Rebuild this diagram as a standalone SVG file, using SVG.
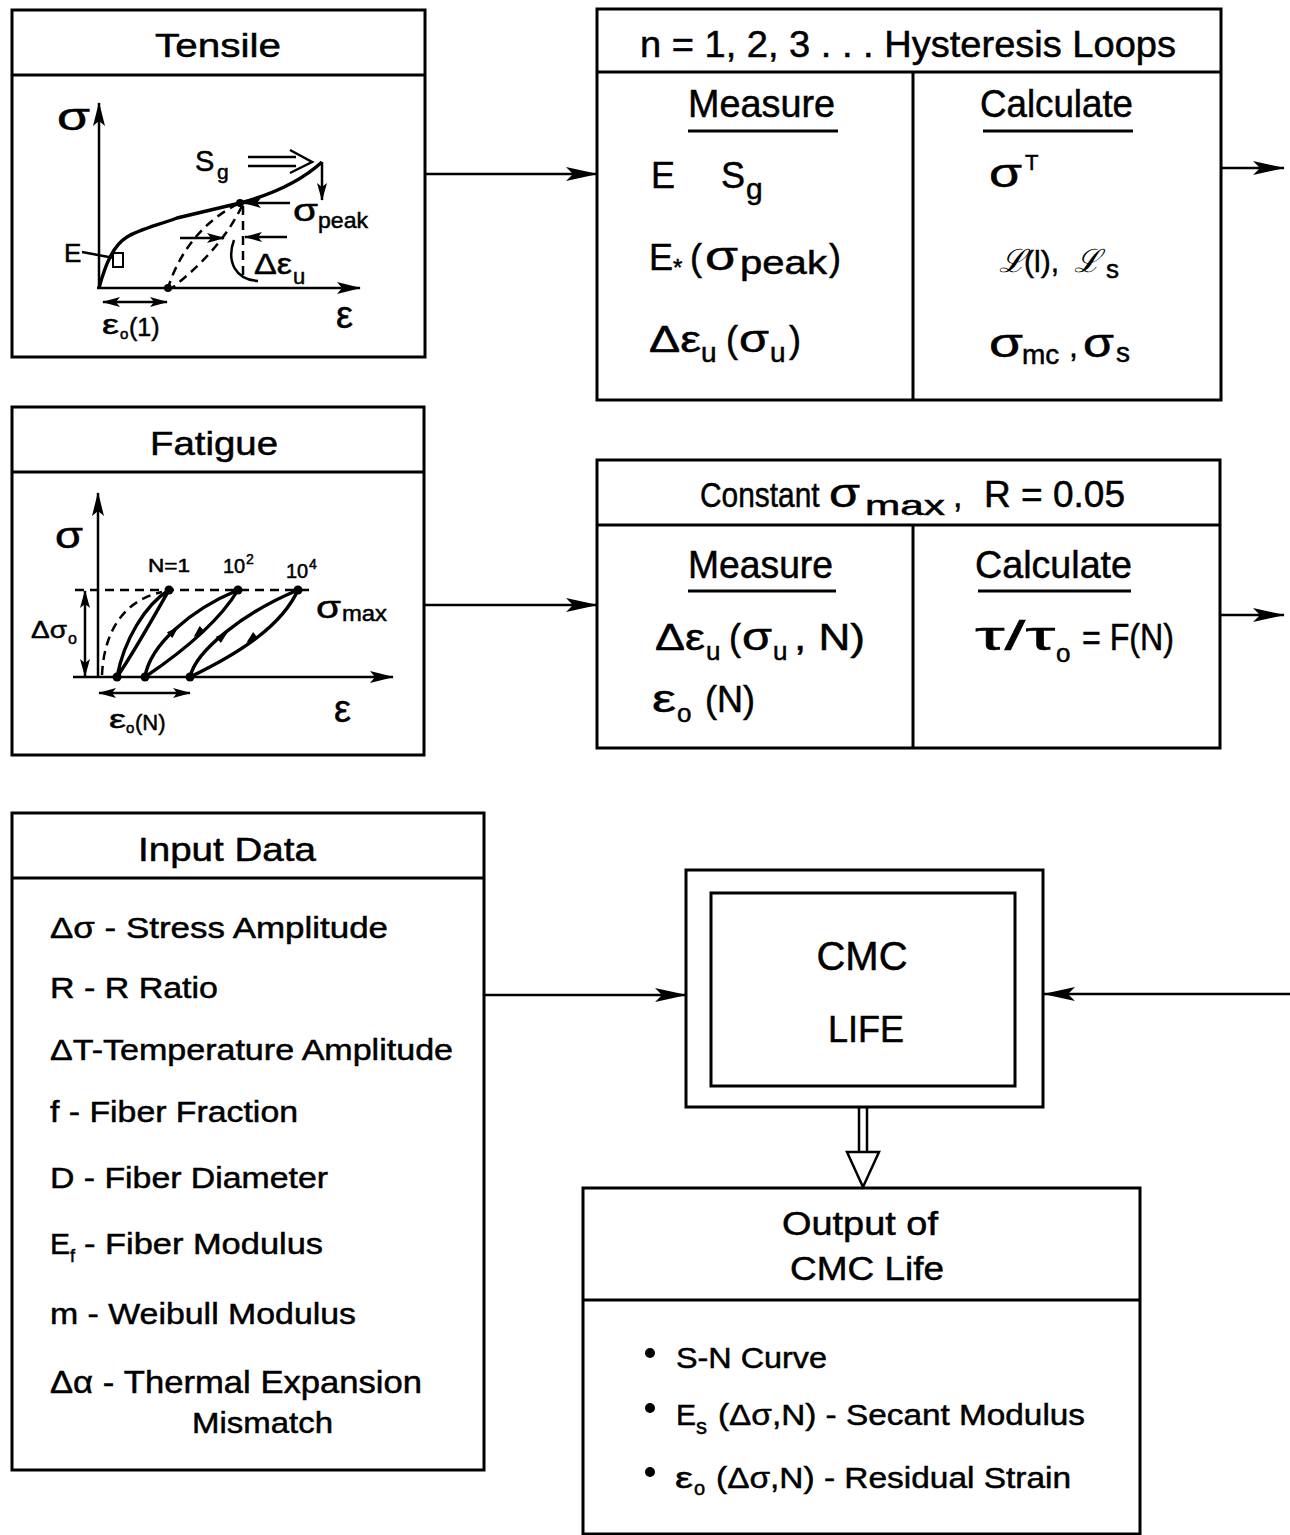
<svg xmlns="http://www.w3.org/2000/svg" width="1290" height="1535" viewBox="0 0 1290 1535">
<defs>
<style>
.box{fill:none;stroke:#000;stroke-width:3}
.ln{fill:none;stroke:#000;stroke-width:2.5}
.th{fill:none;stroke:#000;stroke-width:3.4}
.ds{fill:none;stroke:#000;stroke-width:2.5;stroke-dasharray:9 6}
.t{font-family:"Liberation Sans",Arial,Helvetica,sans-serif;fill:#000;stroke:#000;stroke-width:0.5}
.s{font-family:"DejaVu Serif","Liberation Serif",serif;fill:#000;font-style:italic}
.dot{fill:#000}
.con{fill:none;stroke:#000;stroke-width:2.5;marker-end:url(#big)}
</style>
<marker id="big" viewBox="0 0 32 14" refX="31" refY="7" markerWidth="32" markerHeight="14" markerUnits="userSpaceOnUse" orient="auto-start-reverse"><path d="M0,0 L32,7 L0,14 L7,7 z" fill="#000"/></marker>
<marker id="sm" viewBox="0 0 18 10" refX="17" refY="5" markerWidth="18" markerHeight="10" markerUnits="userSpaceOnUse" orient="auto-start-reverse"><path d="M0,0 L18,5 L0,10 L4,5 z" fill="#000"/></marker>
<marker id="ax" viewBox="0 0 24 12" refX="23" refY="6" markerWidth="24" markerHeight="12" markerUnits="userSpaceOnUse" orient="auto-start-reverse"><path d="M0,0 L24,6 L0,12 L5,6 z" fill="#000"/></marker>
</defs>
<rect width="1290" height="1535" fill="#fff"/>

<!-- Tensile node -->
<g id="tensile">
<rect class="box" x="12" y="10" width="413" height="347"/>
<line class="box" x1="12" y1="75" x2="425" y2="75"/>
<text class="t" x="155" y="57" font-size="34" textLength="126" lengthAdjust="spacingAndGlyphs">Tensile</text>
<line class="ln" x1="99" y1="288" x2="99" y2="103" marker-end="url(#ax)"/>
<line class="ln" x1="97" y1="288" x2="360" y2="288" marker-end="url(#ax)"/>
<path class="th" d="M99,288 C106,262 114,245 127,237 C138,230 155,226 177,218 L240,203 C270,195 300,182 322,162"/>
<path class="ds" d="M238,204 C205,220 180,250 168,288"/>
<path class="ds" d="M242,206 C228,235 205,262 172,288"/>
<path class="ds" d="M243,206 L243,276"/>
<circle class="dot" cx="240" cy="203" r="4"/>
<circle class="dot" cx="168" cy="288" r="4"/>
<rect x="113" y="253" width="10" height="14" fill="none" stroke="#000" stroke-width="2"/>
<line class="ln" x1="82" y1="252" x2="114" y2="258"/>
<text class="t" x="64" y="262" font-size="26">E</text>
<text class="t" x="57" y="130" font-size="38" textLength="33" lengthAdjust="spacingAndGlyphs">σ</text>
<text class="t" x="195" y="171" font-size="29">S</text>
<text class="t" x="217" y="179" font-size="21">g</text>
<path class="ln" d="M248,157 L296,157 M248,166 L296,166 M290,150 L312,162 L290,173" stroke-width="2.5"/>
<line class="ln" x1="322" y1="162" x2="322" y2="200" marker-end="url(#sm)"/>
<line class="ln" x1="290" y1="203" x2="244" y2="203" marker-end="url(#sm)"/>
<text class="t" x="293" y="221" font-size="32" textLength="25" lengthAdjust="spacingAndGlyphs">σ</text>
<text class="t" x="318" y="228" font-size="22" textLength="50" lengthAdjust="spacingAndGlyphs">peak</text>
<line class="ln" x1="180" y1="238" x2="224" y2="238" marker-end="url(#sm)"/>
<line class="ln" x1="287" y1="237" x2="245" y2="237" marker-end="url(#sm)"/>
<path class="ln" d="M234,240 C226,262 236,280 258,281"/>
<text class="t" x="254" y="274" font-size="29" textLength="38" lengthAdjust="spacingAndGlyphs">Δε</text>
<text class="t" x="293" y="284" font-size="22">u</text>
<line class="ln" x1="103" y1="302" x2="167" y2="302" marker-start="url(#sm)" marker-end="url(#sm)"/>
<text class="t" x="102" y="334" font-size="28" textLength="17" lengthAdjust="spacingAndGlyphs">ε</text>
<text class="t" x="120" y="339" font-size="15">o</text>
<text class="t" x="129" y="336" font-size="25">(1)</text>
<text class="t" x="336" y="328" font-size="38">ε</text>
</g>

<!-- Fatigue node -->
<g id="fatigue">
<rect class="box" x="12" y="407" width="412" height="348"/>
<line class="box" x1="12" y1="472" x2="424" y2="472"/>
<text class="t" x="150" y="455" font-size="34" textLength="128" lengthAdjust="spacingAndGlyphs">Fatigue</text>
<line class="ln" x1="98" y1="677" x2="98" y2="493" marker-end="url(#ax)"/>
<line class="ln" x1="73" y1="677" x2="393" y2="677" marker-end="url(#ax)"/>
<path class="ds" d="M75,590 L310,590"/>
<line class="ln" x1="85" y1="591" x2="85" y2="676" marker-start="url(#sm)" marker-end="url(#sm)"/>
<path class="ds" d="M102,675 C104,630 125,600 162,592"/>
<path class="th" d="M117,677 C124,640 145,605 169,590 M169,590 C152,620 134,652 117,677"/>
<path class="th" d="M145,677 C150,645 190,610 238,590 M238,590 C220,620 188,648 145,677"/>
<path class="th" d="M190,677 C196,650 245,612 298,590 M298,590 C282,625 242,652 190,677"/>
<polygon class="dot" points="-6,-4 6,0 -6,4" transform="translate(174,631) rotate(-43)"/>
<polygon class="dot" points="-6,-4 6,0 -6,4" transform="translate(198,633) rotate(137)"/>
<polygon class="dot" points="-6,-4 6,0 -6,4" transform="translate(223,636) rotate(-39)"/>
<polygon class="dot" points="-6,-4 6,0 -6,4" transform="translate(251,639) rotate(141)"/>
<circle class="dot" cx="169" cy="590" r="4.5"/>
<circle class="dot" cx="238" cy="590" r="4.5"/>
<circle class="dot" cx="298" cy="590" r="4.5"/>
<circle class="dot" cx="117" cy="677" r="4.5"/>
<circle class="dot" cx="145" cy="677" r="4.5"/>
<circle class="dot" cx="190" cy="677" r="4.5"/>
<text class="t" x="55" y="548" font-size="36" textLength="28" lengthAdjust="spacingAndGlyphs">σ</text>
<text class="t" x="148" y="572" font-size="18" textLength="42" lengthAdjust="spacingAndGlyphs">N=1</text>
<text class="t" x="223" y="573" font-size="20">10</text>
<text class="t" x="246" y="564" font-size="14">2</text>
<text class="t" x="286" y="578" font-size="20">10</text>
<text class="t" x="309" y="569" font-size="14">4</text>
<text class="t" x="316" y="618" font-size="32" textLength="25" lengthAdjust="spacingAndGlyphs">σ</text>
<text class="t" x="342" y="621" font-size="22" textLength="45" lengthAdjust="spacingAndGlyphs">max</text>
<text class="t" x="31" y="638" font-size="24" textLength="36" lengthAdjust="spacingAndGlyphs">Δσ</text>
<text class="t" x="68" y="644" font-size="16">o</text>
<line class="ln" x1="99" y1="693" x2="190" y2="693" marker-start="url(#sm)" marker-end="url(#sm)"/>
<text class="t" x="109" y="728" font-size="26" textLength="17" lengthAdjust="spacingAndGlyphs">ε</text>
<text class="t" x="126" y="733" font-size="15">o</text>
<text class="t" x="135" y="730" font-size="22">(N)</text>
<text class="t" x="334" y="722" font-size="38">ε</text>
</g>

<!-- Hysteresis node -->
<g id="hysteresis">
<rect class="box" x="597" y="9" width="624" height="391"/>
<line class="box" x1="597" y1="72" x2="1221" y2="72"/>
<line class="box" x1="913" y1="72" x2="913" y2="400"/>
<text class="t" x="640" y="57" font-size="36" textLength="536" lengthAdjust="spacingAndGlyphs">n = 1, 2, 3 . . . Hysteresis Loops</text>
<text class="t" x="688" y="117" font-size="38" textLength="147" lengthAdjust="spacingAndGlyphs">Measure</text>
<line class="box" x1="688" y1="131" x2="838" y2="131"/>
<text class="t" x="980" y="117" font-size="38" textLength="153" lengthAdjust="spacingAndGlyphs">Calculate</text>
<line class="box" x1="983" y1="131" x2="1133" y2="131"/>
<text class="t" x="651" y="188" font-size="36">E</text>
<text class="t" x="721" y="188" font-size="36">S</text>
<text class="t" x="746" y="199" font-size="30">g</text>
<text class="t" x="649" y="270" font-size="36">E</text>
<text class="t" x="673" y="276" font-size="24">*</text>
<text class="t" x="690" y="270" font-size="36">(</text>
<text class="t" x="705" y="270" font-size="40" textLength="33" lengthAdjust="spacingAndGlyphs">σ</text>
<text class="t" x="740" y="274" font-size="34" textLength="87" lengthAdjust="spacingAndGlyphs">peak</text>
<text class="t" x="829" y="270" font-size="36">)</text>
<text class="t" x="649" y="352" font-size="36" textLength="52" lengthAdjust="spacingAndGlyphs">Δε</text>
<text class="t" x="701" y="362" font-size="28">u</text>
<text class="t" x="726" y="352" font-size="36">(</text>
<text class="t" x="739" y="352" font-size="38" textLength="30" lengthAdjust="spacingAndGlyphs">σ</text>
<text class="t" x="770" y="362" font-size="28">u</text>
<text class="t" x="789" y="352" font-size="36">)</text>
<text class="t" x="989" y="187" font-size="40" textLength="33" lengthAdjust="spacingAndGlyphs">σ</text>
<text class="t" x="1025" y="170" font-size="22">T</text>
<text class="s" x="999" y="272" font-size="32">ℒ</text>
<text class="t" x="1024" y="272" font-size="30" stroke-width="0.3">(l),</text>
<text class="s" x="1074" y="272" font-size="32">ℒ</text>
<text class="t" x="1106" y="278" font-size="26" stroke-width="0.3">s</text>
<text class="t" x="989" y="357" font-size="40" textLength="34" lengthAdjust="spacingAndGlyphs">σ</text>
<text class="t" x="1022" y="364" font-size="28">mc</text>
<text class="t" x="1069" y="357" font-size="32">,</text>
<text class="t" x="1083" y="357" font-size="40" textLength="31" lengthAdjust="spacingAndGlyphs">σ</text>
<text class="t" x="1116" y="362" font-size="28">s</text>
</g>

<!-- Constant sigma_max node -->
<g id="constant">
<rect class="box" x="597" y="460" width="623" height="288"/>
<line class="box" x1="597" y1="525" x2="1220" y2="525"/>
<line class="box" x1="913" y1="525" x2="913" y2="748"/>
<text class="t" font-size="36" transform="translate(700,507) scale(0.83,1)">Constant</text>
<text class="t" x="829" y="507" font-size="40" textLength="31" lengthAdjust="spacingAndGlyphs">σ</text>
<text class="t" x="865" y="515" font-size="28" textLength="80" lengthAdjust="spacingAndGlyphs">max</text>
<text class="t" x="953" y="507" font-size="34">,</text>
<text class="t" x="984" y="507" font-size="36" textLength="141" lengthAdjust="spacingAndGlyphs">R = 0.05</text>
<text class="t" x="688" y="578" font-size="38" textLength="145" lengthAdjust="spacingAndGlyphs">Measure</text>
<line class="box" x1="688" y1="591" x2="836" y2="591"/>
<text class="t" x="975" y="578" font-size="38" textLength="157" lengthAdjust="spacingAndGlyphs">Calculate</text>
<line class="box" x1="978" y1="591" x2="1131" y2="591"/>
<text class="t" x="655" y="650" font-size="36" textLength="50" lengthAdjust="spacingAndGlyphs">Δε</text>
<text class="t" x="706" y="660" font-size="26">u</text>
<text class="t" x="729" y="650" font-size="36">(</text>
<text class="t" x="742" y="650" font-size="38" textLength="30" lengthAdjust="spacingAndGlyphs">σ</text>
<text class="t" x="773" y="660" font-size="26">u</text>
<text class="t" x="794" y="650" font-size="36" textLength="71" lengthAdjust="spacingAndGlyphs">, N)</text>
<text class="t" x="652" y="712" font-size="38" textLength="24" lengthAdjust="spacingAndGlyphs">ε</text>
<text class="t" x="677" y="722" font-size="26">o</text>
<text class="t" x="705" y="712" font-size="36">(N)</text>
<text class="t" x="975" y="650" font-size="40" textLength="80" lengthAdjust="spacingAndGlyphs">τ/τ</text>
<text class="t" x="1056" y="662" font-size="26">o</text>
<text class="t" x="1082" y="650" font-size="36" textLength="92" lengthAdjust="spacingAndGlyphs">= F(N)</text>
</g>

<!-- Input Data node -->
<g id="input">
<rect class="box" x="12" y="813" width="472" height="657"/>
<line class="box" x1="12" y1="878" x2="484" y2="878"/>
<text class="t" x="138" y="861" font-size="34" textLength="178" lengthAdjust="spacingAndGlyphs">Input Data</text>
<text class="t" x="50" y="938" font-size="30" textLength="338" lengthAdjust="spacingAndGlyphs">Δσ - Stress Amplitude</text>
<text class="t" x="50" y="998" font-size="30" textLength="168" lengthAdjust="spacingAndGlyphs">R - R Ratio</text>
<text class="t" x="50" y="1060" font-size="30" textLength="403" lengthAdjust="spacingAndGlyphs">ΔT-Temperature Amplitude</text>
<text class="t" x="50" y="1122" font-size="30" textLength="248" lengthAdjust="spacingAndGlyphs">f - Fiber Fraction</text>
<text class="t" x="50" y="1188" font-size="30" textLength="278" lengthAdjust="spacingAndGlyphs">D - Fiber Diameter</text>
<text class="t" x="50" y="1254" font-size="30">E</text>
<text class="t" x="70" y="1262" font-size="18">f</text>
<text class="t" x="84" y="1254" font-size="30" textLength="239" lengthAdjust="spacingAndGlyphs">- Fiber Modulus</text>
<text class="t" x="50" y="1324" font-size="30" textLength="306" lengthAdjust="spacingAndGlyphs">m - Weibull Modulus</text>
<text class="t" x="50" y="1393" font-size="32" textLength="372" lengthAdjust="spacingAndGlyphs">Δα - Thermal Expansion</text>
<text class="t" x="192" y="1433" font-size="30" textLength="141" lengthAdjust="spacingAndGlyphs">Mismatch</text>
</g>

<!-- CMC Life node -->
<g id="cmc">
<rect class="box" x="686" y="870" width="357" height="237"/>
<rect class="box" x="711" y="893" width="304" height="193"/>
<text class="t" x="862" y="970" font-size="40" text-anchor="middle">CMC</text>
<text class="t" x="866" y="1042" font-size="36" text-anchor="middle">LIFE</text>
</g>

<!-- Output node -->
<g id="output">
<rect class="box" x="583" y="1188" width="557" height="346"/>
<line class="box" x1="583" y1="1300" x2="1140" y2="1300"/>
<text class="t" x="782" y="1235" font-size="34" textLength="156" lengthAdjust="spacingAndGlyphs">Output of</text>
<text class="t" x="790" y="1280" font-size="34" textLength="154" lengthAdjust="spacingAndGlyphs">CMC Life</text>
<circle class="dot" cx="650" cy="1353" r="5"/>
<circle class="dot" cx="650" cy="1408" r="5"/>
<circle class="dot" cx="650" cy="1472" r="5"/>
<text class="t" x="676" y="1368" font-size="30" textLength="151" lengthAdjust="spacingAndGlyphs">S-N Curve</text>
<text class="t" x="676" y="1425" font-size="30">E</text>
<text class="t" x="696" y="1434" font-size="22">s</text>
<text class="t" x="718" y="1425" font-size="30" textLength="367" lengthAdjust="spacingAndGlyphs">(Δσ,N) - Secant Modulus</text>
<text class="t" x="675" y="1488" font-size="30" textLength="18" lengthAdjust="spacingAndGlyphs">ε</text>
<text class="t" x="694" y="1495" font-size="20">o</text>
<text class="t" x="716" y="1488" font-size="30" textLength="355" lengthAdjust="spacingAndGlyphs">(Δσ,N) - Residual Strain</text>
</g>

<!-- Connectors -->
<g id="connectors">
<path class="con" d="M425,174 L597,174"/>
<path class="con" d="M424,605 L597,605"/>
<path class="con" d="M1221,168 L1284,168"/>
<path class="con" d="M1220,615 L1284,615"/>
<path class="con" d="M484,995 L686,995"/>
<path class="con" d="M1290,994 L1044,994"/>
<path class="ln" d="M859,1107 L859,1153 M867,1107 L867,1153"/>
<polygon points="847,1152 879,1152 863,1187" fill="#fff" stroke="#000" stroke-width="2.5" stroke-linejoin="miter"/>
</g>
</svg>
